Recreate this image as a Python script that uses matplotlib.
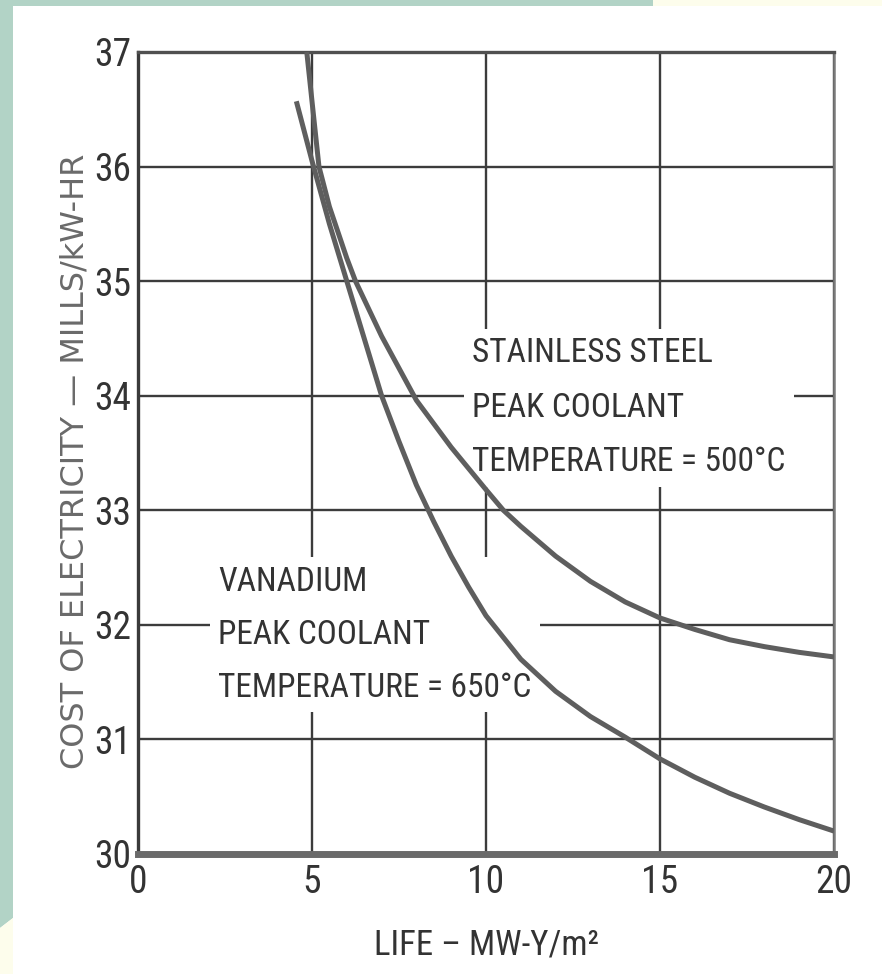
import matplotlib
matplotlib.use("Agg")
import matplotlib.pyplot as plt
from matplotlib.patches import Rectangle, Polygon

# life (MW-Y/m^2) vs cost of electricity (mills/kW-hr)
vanadium_life = [4.55, 5.0, 5.5, 6.0, 6.5, 7.0, 7.5, 8.0, 8.5, 9.0, 9.5, 10.0,
                 11.0, 12.0, 13.0, 14.0, 15.0, 16.0, 17.0, 18.0, 19.0, 20.0]
vanadium_cost = [36.57, 36.05, 35.5, 35.0, 34.5, 34.0, 33.6, 33.22, 32.9, 32.6, 32.33, 32.08,
                 31.7, 31.42, 31.2, 31.02, 30.83, 30.67, 30.53, 30.41, 30.3, 30.2]

steel_life = [4.85, 5.0, 5.2, 5.5, 6.0, 6.25, 7.0, 8.0, 9.0, 10.0, 10.5, 11.0,
              12.0, 13.0, 14.0, 15.0, 16.0, 17.0, 18.0, 19.0, 20.0]
steel_cost = [37.0, 36.57, 36.0, 35.65, 35.2, 35.0, 34.52, 33.96, 33.55, 33.18, 33.0, 32.86,
              32.6, 32.38, 32.2, 32.06, 31.96, 31.87, 31.81, 31.76, 31.72]

x_ticks = [0, 5, 10, 15, 20]
y_ticks = [30, 31, 32, 33, 34, 35, 36, 37]

steel_label = ["STAINLESS STEEL", "PEAK COOLANT", "TEMPERATURE = 500°C"]
vanadium_label = ["VANADIUM", "PEAK COOLANT", "TEMPERATURE = 650°C"]

# condensed face if there is one, else plain sans
narrow = ["Liberation Sans Narrow", "Roboto Condensed", "Archivo Narrow",
          "PT Sans Narrow", "Roboto", "Liberation Sans", "DejaVu Sans"]
ink = "#333333"
curve_color = "#5e5e5e"

fig = plt.figure(figsize=(8.82, 9.74), dpi=100)
fig.patch.set_facecolor("white")

# scan border: green strips and cream edges
green = "#b2d3c6"
cream = "#fdfdec"
fig.add_artist(Rectangle((0, 1 - 6 / 974), 653 / 882, 6 / 974,
                         transform=fig.transFigure, color=green, lw=0))
fig.add_artist(Rectangle((653 / 882, 1 - 6 / 974), 1 - 653 / 882, 6 / 974,
                         transform=fig.transFigure, color=cream, lw=0))
fig.add_artist(Polygon([(0, 1), (13 / 882, 1), (13 / 882, 1 - 918 / 974),
                        (0, 1 - 928 / 974)],
                       transform=fig.transFigure, color=green, lw=0))
fig.add_artist(Polygon([(0, 1 - 928 / 974), (13 / 882, 1 - 918 / 974),
                        (13 / 882, 0), (0, 0)],
                       transform=fig.transFigure, color=cream, lw=0))

ax = fig.add_axes([138 / 882, 1 - 854 / 974, (834 - 138) / 882, (854 - 52) / 974])
ax.set_facecolor("white")

ax.plot(steel_life, steel_cost, color=curve_color, lw=3.6, solid_capstyle="butt", zorder=3)
ax.plot(vanadium_life, vanadium_cost, color=curve_color, lw=3.6, solid_capstyle="butt", zorder=3)

ax.set_xlim(0, 20)
ax.set_ylim(30, 37)
ax.set_xticks(x_ticks)
ax.set_yticks(y_ticks)
ax.tick_params(length=0, labelsize=27, labelcolor=ink)
ax.tick_params(axis="x", pad=7)
ax.tick_params(axis="y", pad=5)
for lab in ax.get_xticklabels() + ax.get_yticklabels():
    lab.set_family(narrow)

ax.set_axisbelow(True)
ax.grid(True, color="#3c3c3c", lw=1.7)

ax.spines["left"].set_linewidth(2.4)
ax.spines["left"].set_color("#3a3a3a")
ax.spines["top"].set_linewidth(2.4)
ax.spines["top"].set_color("#505050")
ax.spines["right"].set_linewidth(1.8)
ax.spines["right"].set_color("#7a7a7a")
ax.spines["bottom"].set_linewidth(5)
ax.spines["bottom"].set_color("#6a6a6a")

ax.set_xlabel("LIFE – MW-Y/m²", family=narrow, fontsize=25, color=ink, labelpad=20)
ax.set_ylabel("COST OF ELECTRICITY — MILLS/kW-HR", family="DejaVu Sans",
              fontsize=23, color="#6a6a6a", va="center")
ax.yaxis.set_label_coords(-0.09, 0.49)

# white-out boxes behind the curve labels, then the labels
ax.text(9.6, 33.34, "\n".join(steel_label), family=narrow, fontsize=24, color=ink,
        va="baseline", ha="left", linespacing=1.9, zorder=2,
        bbox=dict(facecolor="white", edgecolor="none", pad=6))
ax.text(2.3, 31.37, "\n".join(vanadium_label), family=narrow, fontsize=24, color=ink,
        va="baseline", ha="left", linespacing=1.85, zorder=2,
        bbox=dict(facecolor="white", edgecolor="none", pad=6))

fig.savefig("out.png", dpi=100)
